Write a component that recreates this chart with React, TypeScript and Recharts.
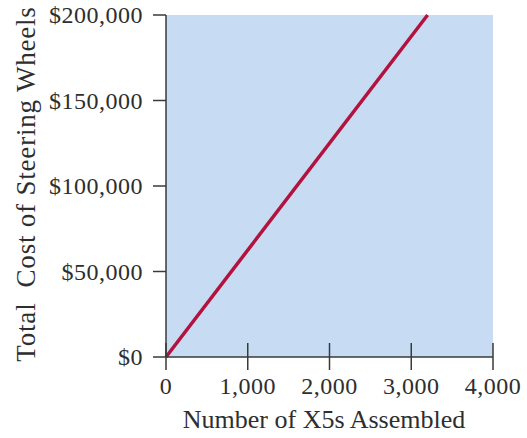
import { CartesianGrid, Line, LineChart, XAxis, YAxis } from 'recharts';

const unitsAssembled = [0, 3200];
const totalCost = [0, 200000];
const xTicks = [0, 1000, 2000, 3000, 4000];
const yTicks = [0, 50000, 100000, 150000, 200000];

const data = unitsAssembled.map((units, i) => ({ units, cost: totalCost[i] }));

const serif = '"Liberation Serif", "Times New Roman", serif';
const axisColor = '#3a3a3a';

function XTick(props: any) {
  const { x, y, payload } = props;
  return (
    <g>
      <line x1={x} x2={x} y1={y - 14} y2={y + 13} stroke={axisColor} strokeWidth={1.5} />
      <text
        x={x}
        y={y + 37}
        textAnchor="middle"
        fill="#2e2e2e"
        style={{ fontFamily: serif, fontSize: 24, letterSpacing: 0.5 }}
      >
        {payload.value.toLocaleString('en-US')}
      </text>
    </g>
  );
}

function YTick(props: any) {
  const { x, y, payload } = props;
  return (
    <text
      x={x}
      y={y + 8}
      textAnchor="end"
      fill="#2e2e2e"
      style={{ fontFamily: serif, fontSize: 24, letterSpacing: 0.5 }}
    >
      {'$' + payload.value.toLocaleString('en-US')}
    </text>
  );
}

export default function App() {
  return (
    <div style={{ position: 'absolute', left: 0, top: 0, background: '#fff' }}>
      <LineChart width={527} height={438} data={data} margin={{ top: 15, right: 34, bottom: 0, left: 0 }}>
        <CartesianGrid fill="#c7dcf3" horizontal={false} vertical={false} />
        <XAxis
          type="number"
          dataKey="units"
          domain={[0, 4000]}
          ticks={xTicks}
          height={81}
          tickSize={0}
          tickMargin={0}
          tickLine={false}
          tick={<XTick />}
          axisLine={{ stroke: axisColor, strokeWidth: 1.5 }}
          interval={0}
          label={{
            content: () => (
              <text
                x={324}
                y={428}
                textAnchor="middle"
                fill="#2e2e2e"
                style={{ fontFamily: serif, fontSize: 26 }}
              >
                Number of X5s Assembled
              </text>
            ),
          }}
        />
        <YAxis
          type="number"
          domain={[0, 200000]}
          ticks={yTicks}
          width={166}
          tickSize={13}
          tickMargin={10}
          tickLine={{ stroke: axisColor, strokeWidth: 1.5 }}
          tick={<YTick />}
          axisLine={{ stroke: axisColor, strokeWidth: 1.5 }}
          interval={0}
          label={{
            content: () => (
              <text
                x={35}
                y={184}
                transform="rotate(-90, 35, 184)"
                textAnchor="middle"
                fill="#2e2e2e"
                style={{ fontFamily: serif, fontSize: 27, letterSpacing: 0.8, whiteSpace: 'pre' }}
              >
                {'Total  Cost of Steering Wheels'}
              </text>
            ),
          }}
        />
        <Line
          type="linear"
          dataKey="cost"
          stroke="#b3123f"
          strokeWidth={3.5}
          dot={false}
          isAnimationActive={false}
        />
      </LineChart>
    </div>
  );
}
